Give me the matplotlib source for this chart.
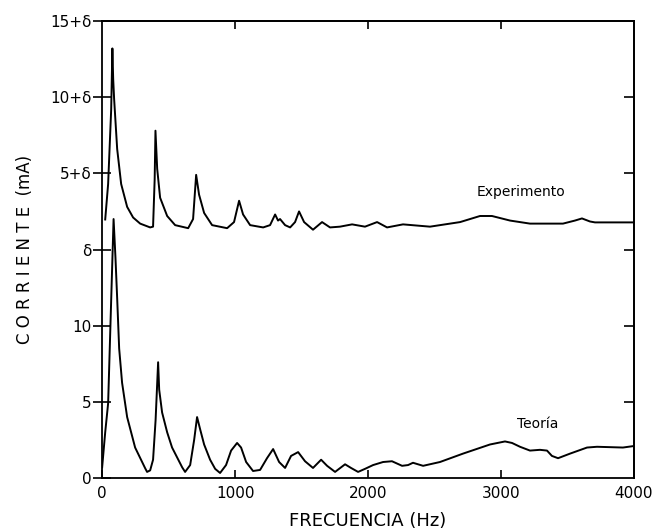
import numpy as np
import matplotlib
matplotlib.use('Agg')
import matplotlib.pyplot as plt

# offset between the two curves (the "delta" of the axis)
DELTA = 15

# Experimento: frequency (Hz) and current above delta (mA)
exp_freq = [23, 45, 68, 77, 83, 90, 113, 143, 188, 233, 286, 361, 383, 395, 401, 414, 436,
            489, 549, 647, 684, 707, 729, 767, 827, 940, 992, 1030, 1060, 1113, 1211,
            1263, 1301, 1323, 1338, 1376, 1414, 1451, 1481, 1519, 1586, 1654, 1714,
            1789, 1880, 1977, 2068, 2143, 2263, 2466, 2692, 2842, 2932, 3068, 3218,
            3466, 3556, 3609, 3669, 3707, 4000]
exp_curr = [1.97, 4.3, 9.2, 13.2, 11.2, 9.9, 6.6, 4.3, 2.8, 2.1, 1.7, 1.45, 1.5, 4.6, 7.8, 5.3, 3.4,
            2.2, 1.6, 1.4, 2.0, 4.9, 3.6, 2.4, 1.6, 1.4, 1.8, 3.2, 2.3, 1.6, 1.45,
            1.6, 2.3, 1.9, 2.0, 1.6, 1.45, 1.8, 2.5, 1.8, 1.3, 1.8, 1.45,
            1.5, 1.65, 1.5, 1.8, 1.45, 1.65, 1.5, 1.8, 2.2, 2.2, 1.9, 1.7,
            1.7, 1.9, 2.04, 1.84, 1.78, 1.78]

# Teoria: frequency (Hz) and current (mA)
teo_freq = [0, 23, 45, 86, 100, 113, 128, 150, 188, 248, 323, 338, 361, 383,
            402, 421, 429, 451, 489, 526, 602, 624, 662, 692, 714, 737, 767, 812, 850,
            887, 932, 970, 1015, 1045, 1083, 1135, 1188, 1240, 1286, 1331, 1376, 1421,
            1474, 1526, 1586, 1647, 1692, 1752, 1827, 1872, 1925, 1977, 2038, 2113,
            2180, 2256, 2301, 2338, 2414, 2541, 2714, 2917, 3030, 3083, 3143, 3218,
            3293, 3346, 3383, 3429, 3519, 3647, 3722, 3917, 4000]
teo_curr = [0.7, 3.0, 4.9, 17.0, 14.5, 11.8, 8.5, 6.25, 4.0, 2.0, 0.65, 0.4, 0.5, 1.2,
            3.8, 7.6, 5.8, 4.3, 3.0, 2.0, 0.7, 0.4, 0.85, 2.5, 4.0, 3.2, 2.2, 1.2, 0.6,
            0.33, 0.85, 1.8, 2.3, 2.0, 1.05, 0.46, 0.53, 1.3, 1.9, 1.05, 0.66, 1.45,
            1.7, 1.1, 0.66, 1.2, 0.8, 0.4, 0.9, 0.66, 0.4, 0.6, 0.85, 1.05,
            1.1, 0.8, 0.85, 1.0, 0.8, 1.05, 1.6, 2.2, 2.4, 2.3, 2.05, 1.8,
            1.85, 1.8, 1.45, 1.3, 1.6, 2.0, 2.05, 2.0, 2.1]

y_ticks = [0, 5, 10, 15, 20, 25, 30]
y_labels = ['0', '5', '10', 'δ', '5+δ', '10+δ', '15+δ']
x_ticks = [0, 1000, 2000, 3000, 4000]

fig = plt.figure(figsize=(6.59, 5.32), dpi=100)
ax = fig.add_axes([0.155, 0.1015, 0.807, 0.859])

ax.plot(exp_freq, np.array(exp_curr) + DELTA, color='black', linewidth=1.4)
ax.plot(teo_freq, teo_curr, color='black', linewidth=1.4)

ax.set_xlim(0, 4000)
ax.set_ylim(0, 30)

ax.set_xticks(x_ticks)
ax.set_xticklabels([str(t) for t in x_ticks], fontsize=11)
ax.set_yticks(y_ticks)
ax.set_yticklabels(y_labels, fontsize=11)
ax.tick_params(axis='y', direction='inout', length=13, width=1.2, pad=1)
ax.tick_params(axis='x', direction='in', length=6, width=1.2, pad=6)

# inward ticks on the top and right sides
ax_top = ax.secondary_xaxis('top')
ax_top.set_xticks([1000, 2000, 3000])
ax_top.tick_params(direction='in', length=6, width=1.2, labeltop=False)
ax_right = ax.secondary_yaxis('right')
ax_right.set_yticks([5, 10, 15, 20, 25])
ax_right.tick_params(direction='in', length=7, width=1.2, labelright=False)

for s in ax.spines.values():
    s.set_linewidth(1.3)
ax_top.spines['top'].set_linewidth(1.3)
ax_right.spines['right'].set_linewidth(1.3)

ax.text(3150, 18.75, 'Experimento', fontsize=10, ha='center', va='center')
ax.text(3275, 3.55, 'Teoría', fontsize=10, ha='center', va='center')

ax.set_xlabel('FRECUENCIA (Hz)', fontsize=13, labelpad=8)
ax.set_ylabel('C O R R I E N T E  (mA)', fontsize=12, labelpad=12)

fig.savefig('out.png', dpi=100)
